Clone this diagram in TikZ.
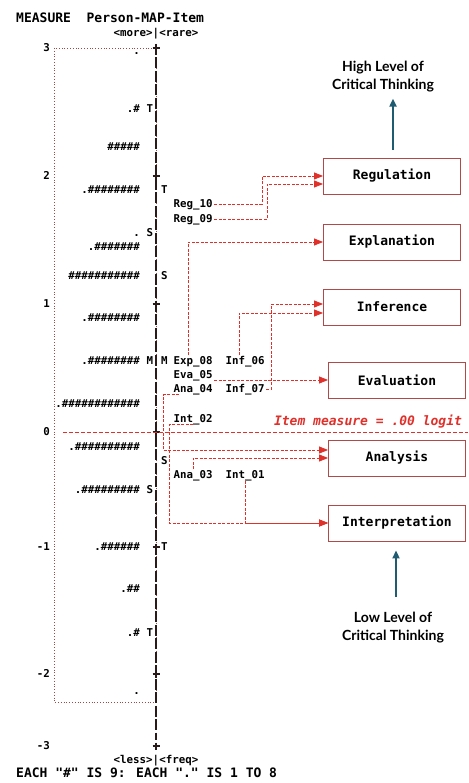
\documentclass[tikz,border=0pt]{standalone}
\usepackage{fontspec}
\usepackage{xcolor}
\usetikzlibrary{arrows.meta,positioning}

\newfontfamily\mapfont{DejaVu Sans Mono}
\newfontfamily\notefont{Lato}

\definecolor{mapred}{HTML}{A04848}
\definecolor{boxred}{HTML}{B04A4A}
\definecolor{feedred}{HTML}{E0302A}
\definecolor{riseteal}{HTML}{1F5C72}
\definecolor{scaledark}{HTML}{2B1A1A}

\newcommand{\hashrun}[1]{\foreach \k in {1,...,#1}{\#}}

\begin{document}
\begin{tikzpicture}[
        x=1pt, y=-1pt,
        person/.style={font=\mapfont\bfseries\fontsize{10.8}{12}\selectfont, inner sep=1.5pt, text height=7.9pt, text depth=0pt, anchor=east},
        flag/.style={person, anchor=west},
        item/.style={person, anchor=west},
        header/.style={font=\mapfont\bfseries\fontsize{13}{14}\selectfont, inner sep=0pt, anchor=west},
        skill/.style={rectangle, draw=boxred, line width=0.9pt, fill=white, minimum width=137pt, minimum height=36pt, font=\mapfont\bfseries\fontsize{13}{15}\selectfont},
        feed/.style={draw=feedred, line width=0.9pt, dash pattern=on 3pt off 1.5pt, -{Triangle[length=9pt,width=7pt]}},
        note/.style={font=\notefont\bfseries\fontsize{14}{18}\selectfont, align=center, inner sep=0pt},
        rise/.style={draw=riseteal, line width=2pt, -{Triangle[length=8pt,width=7pt]}},
        mapframe/.style={draw=mapred, line width=0.8pt, dotted},
        scaleline/.style={draw=scaledark, line width=1.6pt, dash pattern=on 11pt off 2.5pt},
        zeroline/.style={draw=feedred, line width=0.9pt, dash pattern=on 4pt off 2pt}
    ]
        \useasboundingbox (0,0) rectangle (468,783);

        % Header and footer
        \node[header] (map_title) at (16,18) {MEASURE~~Person-MAP-Item};
        \node[person, anchor=center] (map_top) at (156,33) {<more>|<rare>};
        \node[person, anchor=center] (map_bottom) at (156,760) {<less>|<freq>};
        \node[header] (map_key) at (16,773) {EACH \textquotedbl\#\textquotedbl{} IS 9: EACH \textquotedbl.\textquotedbl{} IS 1 TO 8};

        % Person frame and logit scale
        \draw[mapframe] (54,48) rectangle (156,702);
        \draw[scaleline] (156,44) -- (156,740);
        \foreach \yy in {48,176,304,432,547,674,746}
            \draw[draw=scaledark, line width=1.2pt] (152.5,\yy) -- (159.5,\yy) (156,\yy-3.5) -- (156,\yy+3.5);

        \node[person] (scale_p3) at (51.5,48) {3};
        \node[person] (scale_p2) at (51.5,176) {2};
        \node[person] (scale_p1) at (51.5,304) {1};
        \node[person] (scale_0) at (51.5,432) {0};
        \node[person] (scale_m1) at (51.5,547) {-1};
        \node[person] (scale_m2) at (51.5,674) {-2};
        \node[person] (scale_m3) at (51.5,746) {-3};

        % Persons
        \node[person] (person_a) at (141.5,51) {.};
        \node[person] (person_b) at (141.5,109) {.\#};
        \node[person] (person_c) at (141.5,147) {\hashrun{5}};
        \node[person] (person_d) at (141.5,190) {.\hashrun{8}};
        \node[person] (person_e) at (141.5,233) {.};
        \node[person] (person_f) at (141.5,247) {.\hashrun{7}};
        \node[person] (person_g) at (141.5,276) {\hashrun{11}};
        \node[person] (person_h) at (141.5,318) {.\hashrun{8}};
        \node[person] (person_i) at (141.5,361) {.\hashrun{8}};
        \node[person] (person_j) at (141.5,404) {.\hashrun{12}};
        \node[person] (person_k) at (141.5,447) {.\hashrun{10}};
        \node[person] (person_l) at (141.5,490) {.\hashrun{9}};
        \node[person] (person_m) at (141.5,547) {.\hashrun{6}};
        \node[person] (person_n) at (141.5,589) {.\#\#};
        \node[person] (person_o) at (141.5,633) {.\#};
        \node[person] (person_p) at (141.5,691) {.};

        % M, S, T marks
        \node[flag] (flag_lt1) at (145,109) {T};
        \node[flag] (flag_ls1) at (145,233) {S};
        \node[flag] (flag_lm) at (145,361) {M};
        \node[flag] (flag_ls2) at (145,490) {S};
        \node[flag] (flag_lt2) at (145,633) {T};
        \node[flag] (flag_rt1) at (159.5,190) {T};
        \node[flag] (flag_rs1) at (159.5,276) {S};
        \node[flag] (flag_rm) at (159.5,361) {M};
        \node[flag] (flag_rs2) at (159.5,461) {S};
        \node[flag] (flag_rt2) at (159.5,547) {T};

        % Items
        \node[item] (item_reg10) at (172,204) {Reg\_10};
        \node[item] (item_reg09) at (172,219) {Reg\_09};
        \node[item] (item_exp08) at (172,361) {Exp\_08};
        \node[item] (item_inf06) at (224,361) {Inf\_06};
        \node[item] (item_eva05) at (172,375) {Eva\_05};
        \node[item] (item_ana04) at (172,389) {Ana\_04};
        \node[item] (item_inf07) at (224,389) {Inf\_07};
        \node[item] (item_int02) at (172,419) {Int\_02};
        \node[item] (item_ana03) at (172,475) {Ana\_03};
        \node[item] (item_int01) at (224,475) {Int\_01};

        % Item measure line
        \draw[zeroline] (63,432) -- (468,432);
        \node[font=\mapfont\bfseries\itshape\fontsize{13}{14}\selectfont, text=feedred, inner sep=0pt] (item_measure) at (368,422) {Item measure = .00 logit};

        % Skills
        \node[skill] (box_regulation) at (392,176) {Regulation};
        \node[skill] (box_explanation) at (392,242) {Explanation};
        \node[skill] (box_inference) at (392,307) {Inference};
        \node[skill] (box_evaluation) at (397,380) {Evaluation};
        \node[skill] (box_analysis) at (397,458) {Analysis};
        \node[skill] (box_interpretation) at (397,523) {Interpretation};

        \draw[feed] (item_reg10.east) -- ++(48,0) |- (box_regulation.west);
        \draw[feed] (item_reg09.east) -- ++(53,0) |- ([yshift=-8pt]box_regulation.west);
        \draw[feed] ([xshift=-5pt]item_exp08.north) |- (box_explanation.west);
        \draw[feed] ([xshift=-6pt]item_inf06.north) |- ([yshift=-6pt]box_inference.west);
        \draw[feed] (item_inf07.east) -- ++(5,0) |- ([yshift=3pt]box_inference.west);
        \draw[feed] (item_eva05.east |- box_evaluation.west) -- (box_evaluation.west);
        \draw[feed] ([xshift=7pt]item_ana04.south west) -- ++(-16,0) |- ([yshift=8pt]box_analysis.west);
        \draw[feed] (item_ana03.north) |- (box_analysis.west);
        \draw[feed] (item_int02.south) -- ++(-24,0) |- (box_interpretation.west);
        \draw[feed] (item_int01.south) |- (box_interpretation.west);

        % Levels
        \node[note] (high_text) at (383,77) {High Level of\\Critical Thinking};
        \coordinate (high_foot) at (393,150);
        \draw[rise, shorten >=6pt] (high_foot) -- (high_foot |- high_text.south);

        \node[note] (low_text) at (393,628) {Low Level of\\Critical Thinking};
        \coordinate (low_foot) at (396,597);
        \draw[rise, shorten >=9pt] (low_foot) -- (low_foot |- box_interpretation.south);

    \end{tikzpicture}
\end{document}
